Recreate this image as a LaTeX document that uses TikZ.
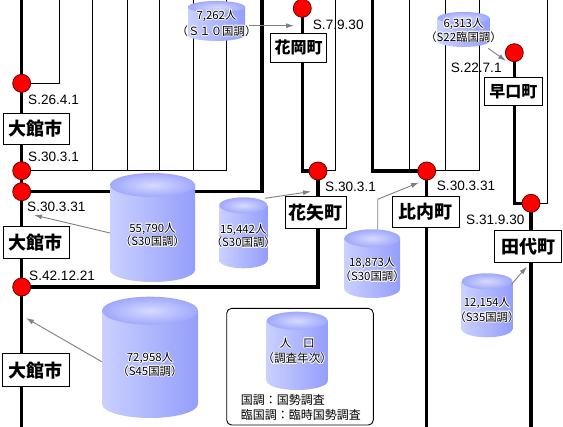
\documentclass[tikz,border=0pt]{standalone}
\usepackage{fontspec}
\newfontfamily\jp{Noto Sans CJK JP}
\newfontfamily\lat{Liberation Sans}
\usetikzlibrary{arrows.meta}
\definecolor{cylA}{RGB}{202,208,255}
\definecolor{cylB}{RGB}{148,158,250}
\definecolor{cylTin}{RGB}{214,219,255}
\definecolor{cylTout}{RGB}{160,168,252}
\definecolor{dotedge}{RGB}{110,0,0}
\definecolor{arrgray}{RGB}{128,128,128}
\newcommand{\dbcyl}[5]{% cx, top, bottom, width, ry
  \shade[left color=cylA, right color=cylB] ({#1-#4/2},{#2+#5}) rectangle ({#1+#4/2},{#3-#5});
  \shade[left color=cylA, right color=cylB] (#1,{#3-#5}) ellipse [x radius={#4/2}, y radius=#5];
  \shade[inner color=cylTin, outer color=cylTout] (#1,{#2+#5}) ellipse [x radius={#4/2}, y radius=#5];
}
\newcommand{\hcopy}[3]{\rlap{\hspace*{#1}\raisebox{#2}{\textcolor{white}{#3}}}}
\newcommand{\halo}[1]{\leavevmode\hcopy{0.8pt}{0pt}{#1}\hcopy{-0.8pt}{0pt}{#1}\hcopy{0pt}{0.8pt}{#1}\hcopy{0pt}{-0.8pt}{#1}\hcopy{0.6pt}{0.6pt}{#1}\hcopy{-0.6pt}{0.6pt}{#1}\hcopy{0.6pt}{-0.6pt}{#1}\hcopy{-0.6pt}{-0.6pt}{#1}#1}
\tikzset{
  thickl/.style={line width=3.3pt, black},
  thinl/.style={line width=1pt, black},
  dot/.style={circle, fill=red, draw=dotedge, line width=0.8pt, minimum size=18pt, inner sep=0pt},
  townbox/.style={draw=black, fill=white, line width=0.9pt, inner sep=0pt, font=\jp\bfseries\fontsize{18}{18}\selectfont},
  smallbox/.style={townbox, font=\jp\bfseries\fontsize{16}{16}\selectfont},
  datelab/.style={anchor=west, inner sep=0pt, font=\lat\fontsize{13.6}{14}\selectfont},
  cyllab/.style={align=center, inner sep=0pt, font=\jp\fontsize{11.4}{13.6}\selectfont},
  legtext/.style={anchor=west, inner sep=0pt, font=\jp\fontsize{12}{14}\selectfont},
  arr/.style={draw=arrgray, line width=0.9pt, -{Latex[length=8pt,width=5pt]}, arrgray}
}
\begin{document}
\begin{tikzpicture}[x=1pt,y=-1pt]
\useasboundingbox (0,0) rectangle (563,427);
\fill[white] (0,0) rectangle (563,427);
\begin{scope}
\clip (0,0) rectangle (563,427);
% circle centres
\coordinate (d1) at (21.7,83.3);
\coordinate (d2) at (21.7,170.7);
\coordinate (d3) at (21.7,191.7);
\coordinate (d4) at (21.7,287);
\coordinate (dHo) at (302.3,8.3);
\coordinate (dHy) at (318,171);
\coordinate (dHi) at (426.7,171);
\coordinate (dHa) at (514.3,52.7);
\coordinate (dTa) at (531,203.3);
% free line ends
\coordinate (oTop) at (21.7,-5);
\coordinate (oBot) at (21.7,432);
\coordinate (t1) at (59.3,-5);
\coordinate (t2) at (92,-5);
\coordinate (t3) at (127,-5);
\coordinate (t4) at (159.3,-5);
\coordinate (t5) at (193.3,-5);
\coordinate (t6) at (226.3,-5);
\coordinate (k1) at (262,-5);
\coordinate (t7) at (335,-5);
\coordinate (k2) at (372.8,-5);
\coordinate (t8) at (409,-5);
\coordinate (t9) at (445.5,-5);
\coordinate (t10) at (479.3,-5);
\coordinate (t11) at (547.5,-5);
\coordinate (bHiEnd) at (426.7,432);
\coordinate (bTaEnd) at (531,432);
% lines
\draw[thickl] (oTop) -- (oBot);
\draw[thinl] (d1) -| (t1);
\draw[thinl] (d2) -| (t6);
\foreach \t in {t2,t3,t4,t5} \draw[thinl] (\t) -- (\t |- d2);
\draw[thickl] (d3) -| (k1);
\draw[thickl] (dHo) |- (dHy);
\draw[thinl] (dHy) -| (t7);
\draw[thickl] (dHy) |- (d4);
\draw[thickl] (dHi) -| (k2);
\draw[thinl] (dHi) -| (t10);
\foreach \t in {t8,t9} \draw[thinl] (\t) -- (\t |- dHi);
\draw[thickl] (dHi) -- (bHiEnd);
\draw[thickl] (dHa) |- (dTa);
\draw[thinl] (dTa) -| (t11);
\draw[thickl] (dTa) -- (bTaEnd);
% legend frame
\node[draw=black, line width=0.9pt, rounded corners=5pt, minimum width=146.6pt, minimum height=116.7pt, inner sep=0pt] (lgbox) at (300,366.7) {};
% cylinders
\dbcyl{216.5}{1}{41}{57}{6}
\dbcyl{463.5}{12}{47}{51.6}{6}
\dbcyl{152.5}{173}{282}{85}{12}
\dbcyl{243.3}{197.3}{268.3}{48}{8}
\dbcyl{372.2}{229.3}{298}{55.7}{9}
\dbcyl{487}{273.3}{337.3}{50.6}{8}
\dbcyl{150}{296.7}{418}{96}{14}
\dbcyl{297.2}{311.7}{390}{61}{9}
\node[cyllab, font=\jp\fontsize{11.4}{16}\selectfont] (cy1) at (216.5,23.3) {\halo{7,262人}\\\halo{（Ｓ１０国調）}};
\node[cyllab] (cy2) at (463.5,30.3) {\halo{6,313人}\\\halo{（S22臨国調）}};
\node[cyllab] (cy3) at (152.5,235) {\halo{55,790人}\\\halo{（S30国調）}};
\node[cyllab] (cy4) at (243.3,236) {\halo{15,442人}\\\halo{（S30国調）}};
\node[cyllab] (cy5) at (372.2,269.7) {\halo{18,873人}\\\halo{（S30国調）}};
\node[cyllab, font=\jp\fontsize{11.4}{14.6}\selectfont] (cy6) at (487,310) {\halo{12,154人}\\\halo{（S35国調）}};
\node[cyllab] (cy7) at (150,364.5) {\halo{72,958人}\\\halo{（S45国調）}};
\node[cyllab, font=\jp\fontsize{11.6}{15.7}\selectfont] (cy8) at (297.2,351) {\halo{人　口}\\\halo{（調査年次）}};
% arrows
\coordinate (a1s) at (249,25.7);  \coordinate (a1e) at (294,25.7);
\coordinate (a2s) at (488.3,48.3); \coordinate (a2e) at (506,61);
\coordinate (a3s) at (110,233);   \coordinate (a3e) at (34,215);
\coordinate (a4s) at (265,198.3); \coordinate (a4e) at (311,191.5);
\coordinate (a5s) at (377.7,229.3); \coordinate (a5m) at (377.7,199.3); \coordinate (a5e) at (419,182.5);
\coordinate (a6s) at (511.7,284); \coordinate (a6e) at (527,266.5);
\coordinate (a7s) at (101.7,361.7); \coordinate (a7e) at (26,318);
\draw[arr] (a1s) -- (a1e);
\draw[arr] (a2s) -- (a2e);
\draw[arr] (a3s) -- (a3e);
\draw[arr] (a4s) -- (a4e);
\draw[arr] (a5s) -- (a5m) -- (a5e);
\draw[arr] (a6s) -- (a6e);
\draw[arr] (a7s) -- (a7e);
% dots
\foreach \d in {d1,d2,d3,d4,dHo,dHy,dHi,dHa,dTa} \node[dot] (\d n) at (\d) {};
% town boxes
\node[townbox, minimum width=66pt, minimum height=31pt] (bO1) at (36,128.5) {大館市};
\node[townbox, minimum width=66pt, minimum height=31.6pt] (bO2) at (36,242.5) {大館市};
\node[townbox, minimum width=66.6pt, minimum height=32.7pt] (bO3) at (36,370.3) {大館市};
\node[smallbox, minimum width=56pt, minimum height=29pt] (bHo) at (298.7,47.8) {花岡町};
\node[townbox, minimum width=61.7pt, minimum height=31.6pt] (bHy) at (315.8,212.5) {花矢町};
\node[townbox, minimum width=67pt, minimum height=31.3pt] (bHi) at (425.8,211.7) {比内町};
\node[smallbox, minimum width=58.7pt, minimum height=28.4pt] (bHa) at (513.3,91.5) {早口町};
\node[townbox, minimum width=67.4pt, minimum height=32pt] (bTa) at (528,246.7) {田代町};
% dates
\node[datelab] (l1) at (28,100) {S.26.4.1};
\node[datelab] (l2) at (28,156.7) {S.30.3.1};
\node[datelab] (l3) at (27,206.7) {S.30.3.31};
\node[datelab] (l4) at (29,276) {S.42.12.21};
\node[datelab] (l5) at (312.7,25) {S.7.9.30};
\node[datelab] (l6) at (325,186.7) {S.30.3.1};
\node[datelab] (l7) at (436.7,185.7) {S.30.3.31};
\node[datelab] (l8) at (450.7,68.3) {S.22.7.1};
\node[datelab] (l9) at (466,220) {S.31.9.30};
% legend text
\node[legtext] (lg1) at (240.7,400) {国調：国勢調査};
\node[legtext] (lg2) at (240.7,415) {臨国調：臨時国勢調査};
\end{scope}
\end{tikzpicture}
\end{document}
